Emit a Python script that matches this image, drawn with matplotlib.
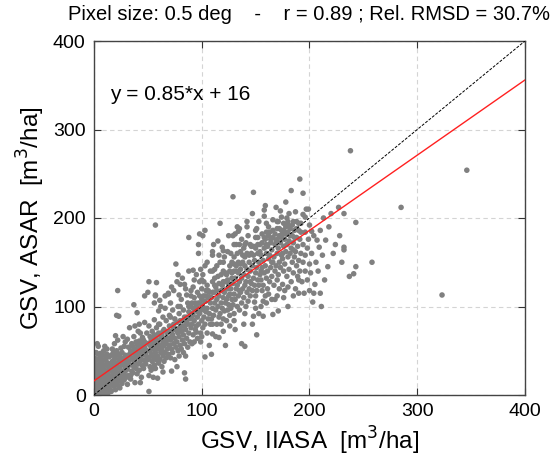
import matplotlib
matplotlib.use("Agg")
import matplotlib.pyplot as plt
import numpy as np

plt.rcParams['font.family'] = ['Liberation Sans', 'DejaVu Sans']

# ---- data ----
band_a = [(0.5,2),(1,8),(1.5,15),(2,22),(2,30),(1,36),(0.5,42),(3,5),(3,12),(4,18),(4,26),(3,33),(3,40),(2,48),
          (5,2),(5,9),(6,15),(5,21),(6,28),(5,35),(6,42),(4,55),(7,5),(7,12),(8,19),(7,25),(8,31),(7,38),(8,45),
          (9,3),(9,10),(10,16),(9,22),(10,28),(9,34),(10,40),(9,50),(11,6),(11,13),(12,20),(11,26),(12,33),(11,39),
          (12,46),(13,2),(13,9),(14,15),(13,23),(14,30),(13,36),(14,43),(15,6),(15,12),(15,19),(15,27),(15,34),
          (1,19),(2,3),(6,47),(3,58),(10,55),(12,52),(0,25),(0,12),(0,32),(4,46),(8,0),(12,0),(6,33),(11,44)]
band_b = [(16,4),(16,14),(17,22),(16,30),(17,38),(16,45),(17,52),(18,10),(18,18),(19,26),(18,33),(19,41),(18,48),
          (19,58),(20,6),(20,14),(21,21),(20,29),(21,36),(20,44),(21,50),(22,11),(22,18),(23,25),(22,32),(23,40),
          (22,47),(22,62),(24,8),(24,16),(25,23),(24,30),(25,37),(24,44),(25,53),(26,13),(26,20),(27,27),(26,34),
          (27,41),(26,48),(28,17),(28,24),(29,31),(28,38),(29,45),(28,55),(30,20),(30,28),(30,35),(30,42),(21,90),
          (23,89),(27,66),(29,60),(20,67),(22,118)]
band_c = [(31,12),(32,22),(31,30),(32,38),(33,46),(32,54),(31,63),(34,18),(35,27),(34,34),(35,42),(34,50),(35,58),
          (36,25),(37,32),(36,40),(37,47),(36,55),(37,66),(38,14),(39,30),(38,37),(39,44),(38,52),(39,60),(40,24),
          (41,35),(40,42),(41,49),(40,57),(41,72),(42,28),(43,38),(42,46),(43,53),(42,61),(44,20),(45,33),(44,41),
          (45,49),(44,57),(45,65),(46,30),(47,39),(46,46),(47,54),(46,62),(48,35),(49,43),(48,51),(48,59),(49,70),
          (50,40),(33,76),(38,78),(42,80),(43,70),(47,82),(43,14),(34,22),(37,102),(40,93)]
band_d = [(51,4),(51,22),(52,32),(51,42),(52,50),(51,58),(52,66),(51,78),(53,28),(54,38),(53,46),(54,54),(53,62),
          (54,72),(55,20),(56,34),(55,43),(56,51),(55,59),(56,68),(56,85),(57,30),(58,40),(57,48),(58,56),(57,64),
          (58,76),(59,19),(60,36),(59,44),(60,52),(59,60),(60,70),(60,95),(61,40),(62,48),(61,56),(62,64),(61,80),
          (63,32),(64,44),(63,52),(64,60),(63,68),(64,88),(65,38),(66,48),(65,56),(66,64),(65,74),(67,42),(68,52),
          (67,60),(68,70),(67,84),(69,46),(70,56),(69,64),(70,78),(56,104),(62,100),(66,98),(57,112),(61,107),
          (71,104),(57,192),(51,128),(50,116),(58,127),(47,112),(57,113),(66,112),(69,114),(64,26),(56,30)]
band_e = [(72,27),(71,42),(72,52),(71,62),(72,72),(71,88),(73,48),(74,58),(73,68),(74,80),(73,96),(75,40),(76,54),
          (75,64),(76,74),(75,86),(77,32),(78,50),(77,60),(78,70),(77,82),(78,100),(79,44),(80,56),(79,66),(80,76),
          (79,92),(81,52),(82,62),(81,72),(82,84),(81,108),(84,25),(83,48),(84,58),(83,68),(84,78),(83,96),(85,18),
          (85,44),(86,64),(85,74),(86,88),(85,120),(87,54),(88,70),(87,80),(88,94),(87,104),(89,60),(90,76),(89,86),
          (90,100),(90,112),(76,148),(80,125),(84,125),(88,140),(92,141),(90,118),(86,113),(79,113),(77,128),
          (69,115),(88,178),(74,118),(82,132),(78,136),(72,122)]
band_f = [(91,58),(92,68),(91,80),(92,90),(91,104),(92,122),(93,60),(94,74),(93,84),(94,96),(93,110),(95,71),
          (96,64),(95,78),(96,88),(95,100),(96,116),(97,160),(97,170),(98,182),(97,80),(98,92),(97,104),(98,128),
          (99,60),(99,70),(100,84),(99,96),(100,108),(100,120),(101,180),(103,186),(101,76),(102,88),(101,100),
          (102,112),(101,136),(103,43),(103,80),(104,94),(103,106),(104,118),(103,146),(105,70),(106,86),(105,98),
          (106,110),(105,124),(107,56),(108,80),(107,92),(108,104),(107,116),(108,140),(109,46),(110,69),(109,86),
          (110,98),(109,110),(110,128),(110,158),(110,162),(105,150),(99,142),(93,130),(95,136),(102,128)]
band_g = [(111,90),(112,104),(111,116),(112,132),(111,170),(113,66),(114,80),(113,96),(114,108),(113,122),
          (114,146),(115,174),(116,65),(116,88),(115,100),(116,112),(115,134),(117,194),(118,80),(117,92),(118,104),
          (118,118),(117,150),(119,167),(120,163),(120,86),(119,98),(120,110),(119,124),(120,140),(121,95),(122,56),
          (122,104),(121,116),(122,128),(121,156),(123,84),(124,96),(123,108),(124,120),(123,136),(125,180),
          (126,78),(126,90),(125,102),(126,114),(125,126),(126,146),(127,98),(128,108),(127,120),(128,132),
          (127,160),(129,180),(129,224),(130,92),(129,102),(130,114),(129,126),(130,140),(130,170),(128,150),
          (124,162),(116,158),(112,142)]
band_h = [(131,74),(131,108),(132,120),(131,132),(132,146),(131,182),(133,190),(133,100),(134,112),(133,124),
          (134,138),(133,160),(134,185),(135,96),(136,116),(135,128),(135,188),(136,142),(135,170),(137,58),
          (137,104),(138,120),(137,132),(138,150),(137,176),(139,80),(139,110),(140,124),(139,136),(140,156),
          (139,166),(140,55),(141,100),(142,116),(141,128),(142,142),(141,172),(142,190),(142,196),(143,106),
          (144,120),(143,134),(144,150),(143,180),(145,112),(146,126),(145,140),(146,160),(147,205),(148,229),
          (148,89),(147,118),(148,132),(147,146),(148,168),(149,105),(149,124),(150,138),(149,152),(150,178),
          (147,80),(150,112),(136,162),(145,170),(132,170)]
band_i = [(151,68),(151,118),(152,130),(151,144),(152,160),(151,188),(153,92),(153,124),(154,136),(153,150),
          (154,170),(153,196),(155,100),(156,118),(155,130),(156,144),(155,158),(156,182),(157,89),(157,124),
          (158,138),(157,152),(158,166),(158,202),(158,209),(159,214),(159,112),(160,132),(159,146),(160,160),
          (159,176),(161,120),(162,114),(161,140),(162,154),(161,168),(162,190),(163,128),(164,144),(163,158),
          (164,172),(163,184),(165,108),(165,134),(166,150),(165,164),(166,178),(166,198),(166,91),(167,124),
          (168,140),(167,156),(168,170),(168,108),(169,146),(170,160),(169,174),(169,212),(170,130),(170,188),
          (171,95),(152,178),(160,194),(157,106)]
band_j = [(171,136),(172,150),(171,166),(172,180),(171,196),(173,208),(173,144),(174,158),(173,172),(174,186),
          (174,201),(175,125),(176,140),(175,154),(176,168),(175,182),(176,194),(177,118),(177,148),(178,162),
          (177,176),(178,190),(178,218),(179,134),(180,156),(179,170),(180,184),(179,200),(181,205),(181,142),
          (182,160),(181,174),(182,188),(183,231),(183,128),(184,150),(183,166),(184,180),(185,196),(185,138),
          (186,156),(185,172),(186,186),(187,207),(187,120),(188,146),(187,162),(188,178),(188,196),(189,134),
          (190,152),(189,168),(190,186),(190,115),(176,110),(185,112),(180,100),(172,120)]
band_k = [(191,244),(191,140),(192,160),(191,176),(192,194),(194,228),(193,128),(194,150),(194,170),(194,204),
          (195,115),(196,140),(196,158),(196,184),(196,201),(197,210),(198,130),(198,166),(199,210),(199,176),
          (200,148),(200,192),(201,138),(202,160),(202,185),(204,180),(205,125),(206,150),(207,175),(208,140),
          (209,167),(210,186),(210,115),(212,158),(213,200),(214,130),(215,175),(203,105),(204,115),(211,100),
          (200,118)]
band_l = [(218,190),(220,205),(224,170),(227,212),(228,180),(230,150),(232,205),(232,167),(232,164),(238,276),
          (237,134),(241,137),(243,145),(243,195),(258,150),(285,212),(323,113),(346,254),(222,160),(217,145)]
band_m = [(42,52),(45,58),(48,47),(52,56),(55,64),(58,62),(61,68),(64,72),(66,58),(69,72),(72,66),(74,76),(77,72),
          (80,84),(82,78),(84,88),(86,82),(88,100),(90,92),(92,98),(94,104),(96,94),(98,112),(100,102),(102,96),
          (104,112),(106,118),(108,110),(110,116),(112,124),(114,118),(116,126),(118,136),(120,128),(122,138),
          (124,130),(126,140),(128,138),(130,148),(132,140),(134,150),(136,148),(138,158),(140,146),(142,160),
          (144,158),(146,168),(148,158),(150,166),(152,170),(154,162),(156,172),(158,178),(160,170),(162,180),
          (164,176),(166,186),(168,182),(170,176),(172,188),(174,178),(176,186),(178,182),(180,192),(182,180),
          (184,192),(186,178),(188,188),(190,194),(192,184),(60,80),(70,90),(80,100),(90,88),(100,130),(110,140),
          (120,150),(130,156),(140,170),(150,186),(160,184),(170,196),(180,196),(100,66),(110,80),(120,72),
          (130,84),(140,92),(150,98),(160,104),(170,112),(180,122),(190,130),(125,112),(135,118),(145,128),
          (155,140),(165,150),(175,160),(185,164)]

fit_slope = 0.85
fit_intercept = 16
title_text = "Pixel size: 0.5 deg    -    r = 0.89 ; Rel. RMSD = 30.7%"
ticks = [0, 100, 200, 300, 400]

pts = np.array(band_a + band_b + band_c + band_d + band_e + band_f + band_g +
               band_h + band_i + band_j + band_k + band_l + band_m, dtype=float)
gsv_iiasa = pts[:, 0]
gsv_asar = pts[:, 1]

fig = plt.figure(figsize=(5.55, 4.68), dpi=100)
ax = fig.add_axes([94/555, 1 - 395/468, (525-94)/555, (395-41)/468])

ax.grid(True, color='#d4d4d4', linestyle=(0, (4, 3)), linewidth=0.8)
ax.set_axisbelow(True)
ax.scatter(gsv_iiasa, gsv_asar, s=16, color='#808080', edgecolors='none', zorder=2)
lx = np.array([0, 400])
ax.plot(lx, lx, color='black', linestyle=(0, (3, 1.5)), linewidth=0.7, zorder=3)
ax.plot(lx, fit_slope * lx + fit_intercept, color='#ff2020', linewidth=1.0, zorder=4)

ax.set_xlim(0, 400)
ax.set_ylim(0, 400)
ax.set_xticks(ticks)
ax.set_yticks(ticks)
ax.tick_params(direction='in', length=5, width=0.8, labelsize=14, top=True, right=True,
               color='#333333')
ax.tick_params(axis='x', pad=6)
ax.tick_params(axis='y', pad=6)
for sp in ax.spines.values():
    sp.set_color('#444444')
    sp.set_linewidth(1.0)

ax.set_xlabel('GSV, IIASA  [m$^3$/ha]', fontsize=17.5, labelpad=3)
ax.set_ylabel('GSV, ASAR  [m$^3$/ha]', fontsize=17.5, labelpad=4)
ax.set_title(title_text, fontsize=14.5, pad=15)
ax.text(15, 339, 'y = %.2f*x + %d' % (fit_slope, fit_intercept), fontsize=15, va='center', ha='left')

fig.savefig('out.png', dpi=100)
